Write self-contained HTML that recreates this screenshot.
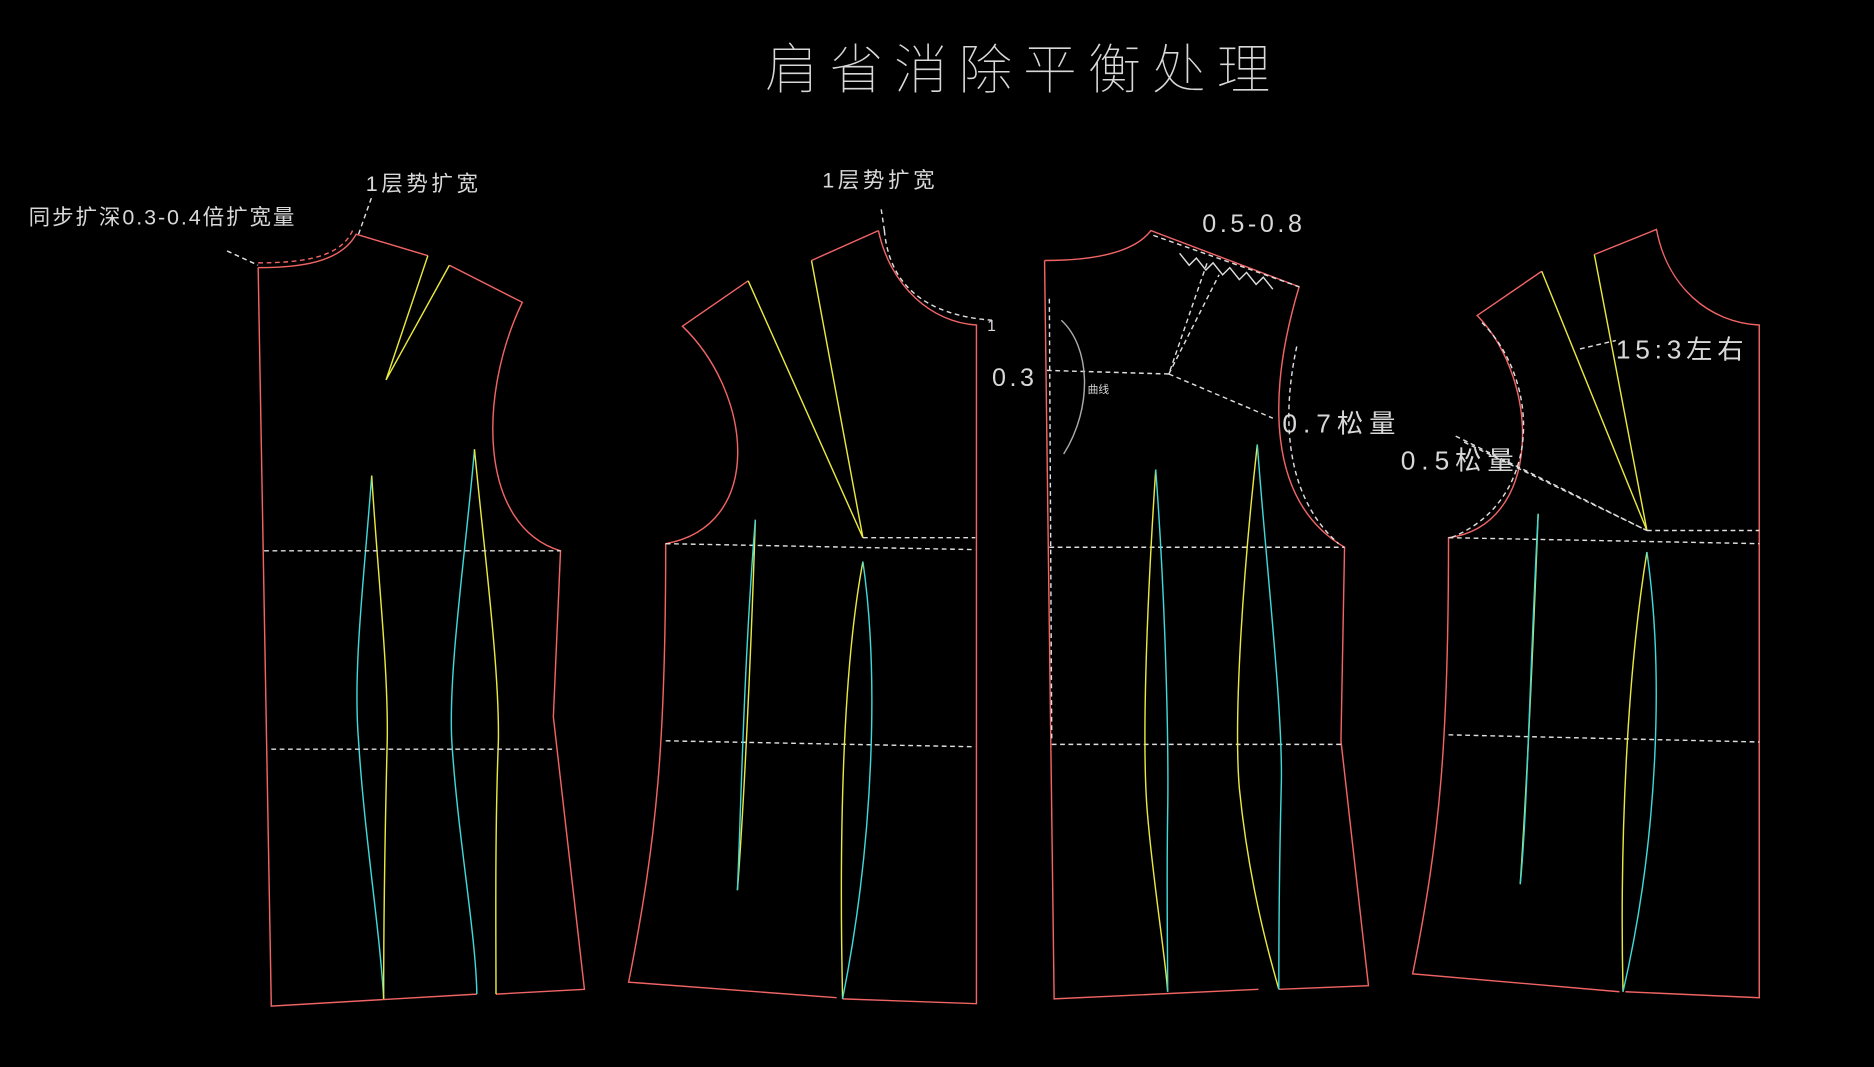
<!DOCTYPE html>
<html><head><meta charset="utf-8"><style>
html,body{margin:0;padding:0;background:#000;}
svg{display:block;}
text{font-family:"Liberation Sans","Noto Sans CJK SC",sans-serif;fill:#d8d8d8;}
</style></head><body>
<svg width="1874" height="1067" viewBox="0 0 1568 893" preserveAspectRatio="none" xmlns="http://www.w3.org/2000/svg">
<rect width="1568" height="893" fill="#000"/>
<text x="640" y="74" font-size="45" letter-spacing="9" fill="#d0d0d0" style="font-family:'Noto Sans CJK SC',sans-serif;font-weight:100">肩省消除平衡处理</text>
<g fill="none" stroke-width="1.2">
<g stroke="#f06464">
<path d="M216,224 C250,224 285,220 298,196 L358,214 M376,222 L437,253 C400,330 400,440 469,461 L463,600 L489,828 L415,832 M399,832 L227,842 L216,224"/>
</g>
<path stroke="#e8e840" d="M358,214 L323,318 L376,222"/>
<path stroke="#40d8d8" d="M311,398 C305,480 295,560 300,620 C305,700 318,780 321,836 M397,376 C390,460 375,560 378,620 C383,700 398,780 399,832"/>
<path stroke="#e8e840" d="M311,398 C316,480 325,560 324,620 C322,700 321,780 321,836 M397,376 C405,460 418,560 417,620 C414,700 415,780 415,832"/>
<g stroke="#ddd" stroke-dasharray="4,3">
<path d="M221,461 L469,461 M227,627 L463,627 M190,210 L216,222 M300,196 L311,165"/>
</g>
<path stroke="#f06464" stroke-dasharray="4,3" d="M216,220 C255,220 285,215 295,193"/>
<path stroke="#f06464" d="M735,193 C745,240 780,270 817,272 L817,840 L705,836 M700,835 L526,822 C550,700 557,620 557,455 C640,440 630,330 571,273 L626,235 M679,218 L735,193"/>
<path stroke="#e8e840" d="M626,235 L722,450 L679,218"/>
<path stroke="#ddd" stroke-dasharray="4,3" d="M740,193 C745,250 790,265 830,268 M740,193 L737,173 M557,455 L816,460 M722,450 L816,450 M557,620 L816,625"/>
<path stroke="#e8e840" d="M632,435 C628,560 622,680 617,745 M722,470 C705,560 702,700 705,836"/>
<path stroke="#40d8d8" d="M632,435 C622,560 620,680 617,745 M722,470 C735,560 732,700 705,836"/>
<path stroke="#f06464" d="M874,218 C920,218 950,210 963,193 L1087,240 C1060,330 1060,420 1125,458 L1122,620 L1145,825 L1070,828 M1053,828 L882,836 L874,218"/>
<path stroke="#ddd" stroke-dasharray="4,3" d="M878,458 L1125,458 M880,623 L1122,623 M876,310 L978,313 L1010,220 M978,313 L1065,350 M978,313 L1020,230 M965,197 L1087,240 M1085,290 C1070,360 1080,420 1120,455 M878,250 L880,620"/>
<path stroke="#ddd" d="M987,212 l8,10 l6,-6 l8,10 l6,-6 l8,10 l6,-6 l8,10 l6,-6 l8,10 l6,-6 l8,10"/>
<path stroke="#aaa" d="M888,268 C912,290 915,340 890,380"/>
<path stroke="#e8e840" d="M967,393 C960,500 955,620 960,680 C965,740 975,800 977,830 M1052,372 C1040,480 1032,600 1037,660 C1045,740 1062,800 1070,828"/>
<path stroke="#40d8d8" d="M967,393 C975,500 978,620 977,680 C976,740 977,800 977,830 M1052,372 C1060,480 1074,600 1072,660 C1070,740 1070,800 1070,828"/>
<path stroke="#f06464" d="M1334,213 L1386,192 C1395,240 1430,270 1472,272 L1472,835 L1360,830 M1355,830 L1182,815 C1205,700 1212,620 1212,450 C1290,440 1290,320 1236,264 L1290,227"/>
<path stroke="#e8e840" d="M1290,227 L1378,444 L1334,213"/>
<path stroke="#ddd" stroke-dasharray="4,3" d="M1212,450 L1472,455 M1378,444 L1472,444 M1212,615 L1472,621 M1218,365 L1378,444 M1225,370 L1378,444 M1322,292 L1352,285 M1240,270 C1290,320 1290,420 1214,450"/>
<path stroke="#e8e840" d="M1287,430 C1282,560 1276,680 1272,740 M1378,462 C1362,560 1355,700 1358,830"/>
<path stroke="#40d8d8" d="M1287,430 C1280,560 1278,680 1272,740 M1378,462 C1392,560 1388,700 1358,830"/>
</g>
<text x="24" y="188" font-size="18" letter-spacing="1.6">同步扩深0.3-0.4倍扩宽量</text>
<text x="306" y="160" font-size="18" letter-spacing="3">1层势扩宽</text>
<text x="688" y="157" font-size="18" letter-spacing="3">1层势扩宽</text>
<text x="826" y="277" font-size="13">1</text>
<text x="1006" y="194" font-size="21" letter-spacing="3">0.5-0.8</text>
<text x="830" y="323" font-size="21" letter-spacing="3">0.3</text>
<text x="910" y="329" font-size="9">曲线</text>
<text x="1073" y="362" font-size="22" letter-spacing="5">0.7松量</text>
<text x="1172" y="393" font-size="22" letter-spacing="5">0.5松量</text>
<text x="1352" y="300" font-size="22" letter-spacing="4">15:3左右</text>
</svg>
</body></html>
